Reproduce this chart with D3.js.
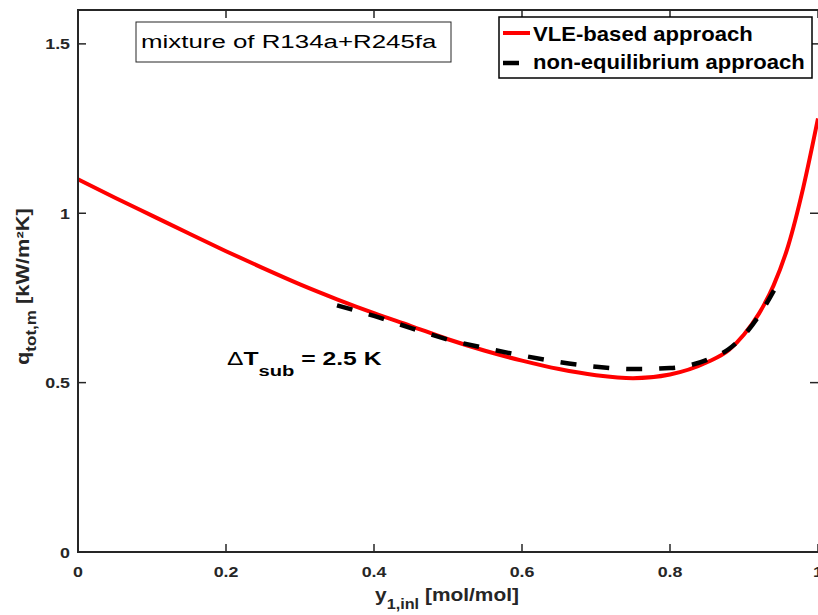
<!DOCTYPE html>
<html>
<head>
<meta charset="utf-8">
<script src="https://cdn.jsdelivr.net/npm/d3@7"></script>
<style>
  body { margin: 0; background: #fff; }
  svg { display: block; font-family: "Liberation Sans", Arial, sans-serif; }
</style>
</head>
<body>
<svg id="chart" width="818" height="615"></svg>
<script>
// data
var xVle = [0, 0.05, 0.1, 0.15, 0.2, 0.25, 0.3, 0.35, 0.4, 0.45, 0.5, 0.55, 0.6, 0.65, 0.7, 0.75, 0.8, 0.85, 0.88, 0.9, 0.92, 0.94, 0.96, 0.98, 1.0];
var yVle = [1.100, 1.046, 0.993, 0.940, 0.888, 0.838, 0.790, 0.746, 0.705, 0.667, 0.628, 0.594, 0.565, 0.540, 0.522, 0.513, 0.524, 0.560, 0.597, 0.642, 0.703, 0.787, 0.906, 1.075, 1.280];

var xNeq = [0.35, 0.4, 0.45, 0.5, 0.55, 0.6, 0.65, 0.7, 0.75, 0.8, 0.85, 0.88, 0.9, 0.92, 0.945];
var yNeq = [0.728, 0.697, 0.661, 0.627, 0.602, 0.580, 0.561, 0.547, 0.540, 0.543, 0.567, 0.600, 0.640, 0.697, 0.790];

var xTicks = [0, 0.2, 0.4, 0.6, 0.8, 1];
var xTickLabels = ["0", "0.2", "0.4", "0.6", "0.8", "1"];
var yTicks = [0, 0.5, 1, 1.5];
var yTickLabels = ["0", "0.5", "1", "1.5"];

var seriesNames = ["VLE-based approach", "non-equilibrium approach"];

var svg = d3.select('#chart');
// note: "top" is window.top, so use other names
var plotL = 78, plotR = 818, plotT = 10, plotB = 552;
var axisColor = "#262626";

var x = d3.scaleLinear().domain([0, 1]).range([plotL, plotR]);
var y = d3.scaleLinear().domain([0, 1.6]).range([plotB, plotT]);

// stretch a text horizontally so it fills a given width
function fitWidth(g, px, py, w) {
  var bw = g.node().getBBox().width;
  g.attr('transform', 'translate(' + px + ',' + py + ') scale(' + (w / bw) + ',1)');
}
function stretch(g, px, py, k) {
  g.attr('transform', 'translate(' + px + ',' + py + ') scale(' + k + ',1)');
}

svg.append('clipPath').attr('id', 'plotclip')
  .append('rect').attr('x', plotL).attr('y', plotT).attr('width', plotR - plotL).attr('height', plotB - plotT);

// lines
var lineVle = d3.line().x(function(d, i) { return x(xVle[i]); }).y(function(d) { return y(d); }).curve(d3.curveMonotoneX);
var lineNeq = d3.line().x(function(d, i) { return x(xNeq[i]); }).y(function(d) { return y(d); }).curve(d3.curveMonotoneX);

var plot = svg.append('g').attr('clip-path', 'url(#plotclip)');
plot.append('path').attr('d', lineVle(yVle))
  .attr('fill', 'none').attr('stroke', '#ff0000').attr('stroke-width', 4);
plot.append('path').attr('d', lineNeq(yNeq))
  .attr('fill', 'none').attr('stroke', '#000').attr('stroke-width', 4.5)
  .attr('stroke-dasharray', '16,17');

// frame
svg.append('rect').attr('x', plotL).attr('y', plotT).attr('width', plotR - plotL + 2).attr('height', plotB - plotT)
  .attr('fill', 'none').attr('stroke', axisColor).attr('stroke-width', 2);

// ticks (inside, all four sides)
xTicks.forEach(function(t) {
  svg.append('line').attr('x1', x(t)).attr('x2', x(t)).attr('y1', plotB).attr('y2', plotB - 8)
    .attr('stroke', axisColor).attr('stroke-width', 1.5);
  svg.append('line').attr('x1', x(t)).attr('x2', x(t)).attr('y1', plotT).attr('y2', plotT + 8)
    .attr('stroke', axisColor).attr('stroke-width', 1.5);
});
yTicks.forEach(function(t) {
  svg.append('line').attr('x1', plotL).attr('x2', plotL + 8).attr('y1', y(t)).attr('y2', y(t))
    .attr('stroke', axisColor).attr('stroke-width', 1.5);
  svg.append('line').attr('x1', plotR - 8).attr('x2', plotR).attr('y1', y(t)).attr('y2', y(t))
    .attr('stroke', axisColor).attr('stroke-width', 1.5);
});

// tick labels
xTicks.forEach(function(t, i) {
  var g = svg.append('g');
  g.append('text').attr('text-anchor', 'middle').attr('font-size', 15.5).attr('font-weight', 'bold')
    .attr('fill', axisColor).text(xTickLabels[i]);
  stretch(g, x(t), 576.5, 1.15);
});
yTicks.forEach(function(t, i) {
  var g = svg.append('g');
  g.append('text').attr('text-anchor', 'end').attr('font-size', 15.5).attr('font-weight', 'bold')
    .attr('fill', axisColor).text(yTickLabels[i]);
  stretch(g, 70, y(t) + 5.5, 1.15);
});

// x label
var gx = svg.append('g');
var tx = gx.append('text').attr('font-size', 18).attr('font-weight', 'bold').attr('fill', axisColor);
tx.append('tspan').text('y');
tx.append('tspan').attr('font-size', 14).attr('dy', 8).text('1,inl');
tx.append('tspan').attr('dy', -8).text(' [mol/mol]');
fitWidth(gx, 375, 601, 144);

// y label
var gy = svg.append('g');
var ty = gy.append('text').attr('font-size', 18).attr('font-weight', 'bold').attr('fill', axisColor);
ty.append('tspan').text('q');
ty.append('tspan').attr('font-size', 14).attr('dy', 7).text('tot,m');
ty.append('tspan').attr('dy', -7).text(' [kW/m\u00b2K]');
var yl = ty.node().getComputedTextLength();
gy.attr('transform', 'translate(29,365) rotate(-90) scale(' + (157 / yl) + ',1)');

// annotation box
svg.append('rect').attr('x', 136).attr('y', 22).attr('width', 315).attr('height', 40)
  .attr('fill', '#fff').attr('stroke', axisColor).attr('stroke-width', 1);
var ga = svg.append('g');
ga.append('text').attr('font-size', 19).attr('fill', '#000').text('mixture of R134a+R245fa');
fitWidth(ga, 141, 48, 296);

// delta T annotation
var gd = svg.append('g');
var td = gd.append('text').attr('font-size', 19).attr('font-weight', 'bold').attr('fill', '#000');
td.append('tspan').attr('font-weight', 'normal').text('\u0394');
td.append('tspan').text('T');
td.append('tspan').attr('font-size', 15.5).attr('dy', 11).text('sub');
td.append('tspan').attr('dy', -11).text(' = 2.5 K');
fitWidth(gd, 227, 365, 155);

// legend
svg.append('rect').attr('x', 499).attr('y', 17).attr('width', 313).attr('height', 61)
  .attr('fill', '#fff').attr('stroke', '#000').attr('stroke-width', 1.5);
svg.append('line').attr('x1', 503).attr('x2', 530).attr('y1', 33).attr('y2', 33)
  .attr('stroke', '#ff0000').attr('stroke-width', 4);
svg.append('line').attr('x1', 503).attr('x2', 530).attr('y1', 63).attr('y2', 63)
  .attr('stroke', '#000').attr('stroke-width', 4.5).attr('stroke-dasharray', '16,17');
var gl1 = svg.append('g');
gl1.append('text').attr('font-size', 19.5).attr('font-weight', 'bold').attr('fill', '#000').text(seriesNames[0]);
fitWidth(gl1, 533, 40.5, 220);
var gl2 = svg.append('g');
gl2.append('text').attr('font-size', 19.5).attr('font-weight', 'bold').attr('fill', '#000').text(seriesNames[1]);
fitWidth(gl2, 533, 68.5, 272);
</script>
</body>
</html>
